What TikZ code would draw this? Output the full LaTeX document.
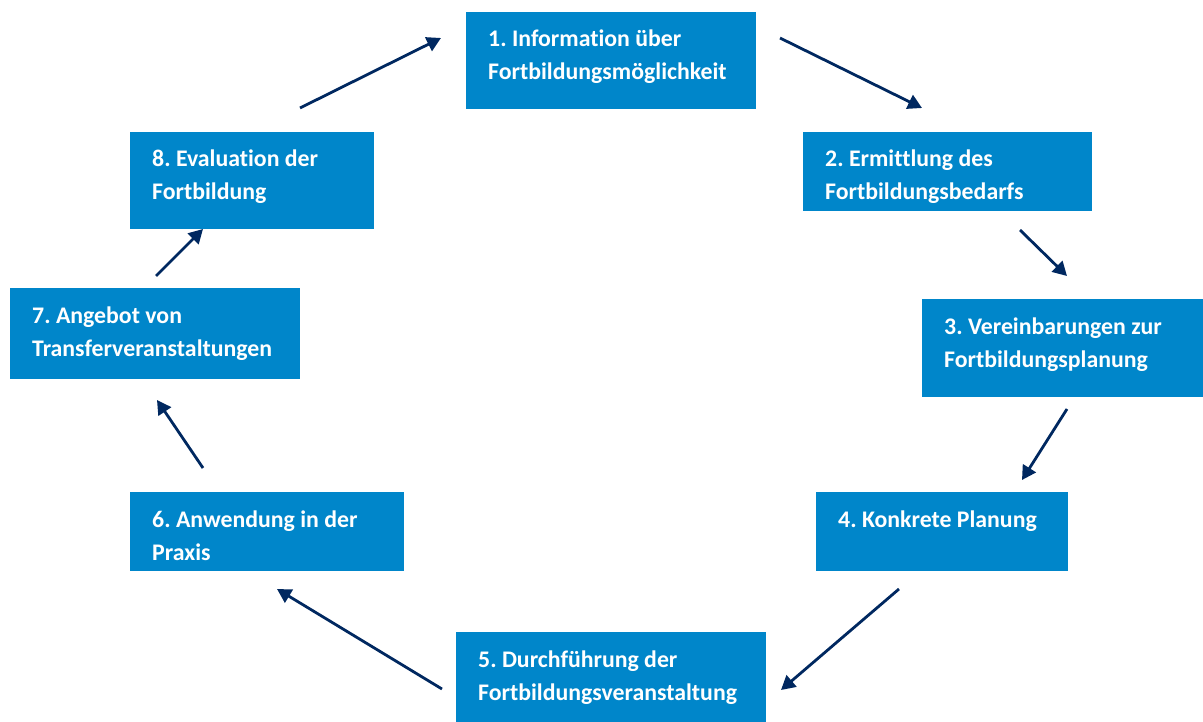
\documentclass[tikz,border=0pt]{standalone}
\usepackage{fontspec}
\setmainfont{Carlito}[Ligatures=NoCommon]
\usetikzlibrary{arrows.meta}
\frenchspacing
\definecolor{boxblue}{RGB}{0,134,202}
\definecolor{navy}{RGB}{0,40,96}
\tikzset{
  box/.style={fill=boxblue, draw=none, inner sep=0pt, anchor=north west},
  txt/.style={anchor=base west, inner sep=0pt, text=white, font=\bfseries\fontsize{23.8}{33}\selectfont\frenchspacing, align=left},
  arr/.style={draw=navy, line width=2.8pt, -{Triangle[length=14pt,width=15pt]}}
}
\newcommand{\mybox}[7]{%
  \node[box, minimum width=#4pt, minimum height=#5pt] (#1) at (#2,#3) {};
  \node[txt] (#1t) at ([shift={(22pt,-68pt)}]#1.north west) {#6\\#7};
}
\begin{document}
\begin{tikzpicture}[x=1pt,y=-1pt]
\useasboundingbox (0,0) rectangle (1203,722);
\mybox{b1}{466}{12}{290}{97}{1. Information über}{Fortbildungsmöglichkeit}
\mybox{b2}{803}{132}{289}{79}{2. Ermittlung des}{Fortbildungsbedarfs}
\mybox{b3}{922}{299}{281}{98}{3. Vereinbarungen zur}{Fortbildungsplanung}
\node[box, minimum width=252pt, minimum height=79pt] (b4) at (816,492) {};
\node[txt] (b4t) at ([shift={(22pt,-35pt)}]b4.north west) {4. Konkrete Planung};
\mybox{b5}{456}{632}{310}{100}{5. Durchführung der}{Fortbildungsveranstaltung}
\mybox{b6}{130}{492}{274}{79}{6. Anwendung in der}{Praxis}
\mybox{b7}{10}{288}{290}{91}{7. Angebot von}{Transferveranstaltungen}
\mybox{b8}{130}{132}{244}{97}{8. Evaluation der}{Fortbildung}
\coordinate (a1s) at (780,38);  \coordinate (a1e) at (922,108);
\coordinate (a2s) at (1020,230); \coordinate (a2e) at (1067,276);
\coordinate (a3s) at (1067,409); \coordinate (a3e) at (1022,480);
\coordinate (a4s) at (899,589);  \coordinate (a4e) at (781,690);
\coordinate (a5s) at (442,689);  \coordinate (a5e) at (277,589);
\coordinate (a6s) at (203,468);  \coordinate (a6e) at (157,400);
\coordinate (a7s) at (156,276);  \coordinate (a7e) at (203,229);
\coordinate (a8s) at (300,108);  \coordinate (a8e) at (441,38);
\foreach \i in {1,...,8} \draw[arr] (a\i s) -- (a\i e);
\end{tikzpicture}
\end{document}
